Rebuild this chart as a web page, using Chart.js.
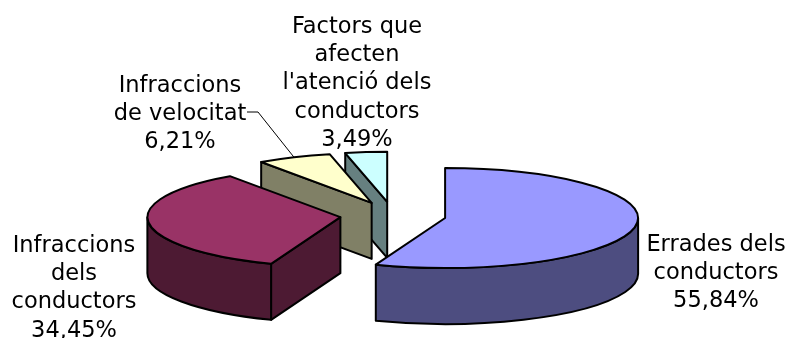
<!DOCTYPE html>
<html>
<head>
<meta charset="utf-8">
<style>
html, body { margin: 0; padding: 0; background: #fff; }
canvas { display: block; }
</style>
<script src="https://cdn.jsdelivr.net/npm/chart.js@4/dist/chart.umd.min.js"></script>
</head>
<body>
<canvas id="pie3d" width="790" height="338"></canvas>
<script>
// Dades del gràfic
const categories = ['Errades dels conductors', 'Infraccions dels conductors', 'Infraccions de velocitat', "Factors que afecten l'atenció dels conductors"];
const percentatges = [55.84, 34.45, 6.21, 3.49];

// Colors
const topColors = ['#9999FF', '#993366', '#FFFFCC', '#CCFFFF'];
const wallColors = ['#4D4D80', '#4D1A33', '#808066', '#668080'];

// Etiquetes: línies de text i posició
const labelLines = [
    ['Errades dels', 'conductors', '55,84%'],
    ['Infraccions', 'dels', 'conductors', '34,45%'],
    ['Infraccions', 'de velocitat', '6,21%'],
    ['Factors que', 'afecten', "l'atenció dels", 'conductors', '3,49%']
];
const labelCenterX = [716, 74, 180, 357];
const labelBaseline = [251, 252, 92, 33];
const lineHeight = 28.2;

// Aspecte 3D
const squash = 0.259;
const depth = 56;
const explode = 53;
const paintOrder = [3, 2, 1, 0];

function drawSlice(ctx, arc, i) {
    const mid = (arc.startAngle + arc.endAngle) / 2;
    const cx = arc.x + Math.cos(mid) * explode;
    const cy = arc.y + Math.sin(mid) * explode * squash;
    const rx = arc.outerRadius;
    const ry = rx * squash;
    const a0 = arc.startAngle;
    const a1 = arc.endAngle;
    const px = (a) => cx + Math.cos(a) * rx;
    const py = (a) => cy + Math.sin(a) * ry;

    ctx.lineWidth = 2;
    ctx.lineJoin = 'round';
    ctx.strokeStyle = '#000';
    ctx.fillStyle = wallColors[i];

    // cares radials visibles
    [[a0, Math.cos(a0) < -1e-6], [a1, Math.cos(a1) > 1e-6]].forEach(([a, visible]) => {
        if (!visible) return;
        ctx.beginPath();
        ctx.moveTo(cx, cy);
        ctx.lineTo(px(a), py(a));
        ctx.lineTo(px(a), py(a) + depth);
        ctx.lineTo(cx, cy + depth);
        ctx.closePath();
        ctx.fill();
        ctx.stroke();
    });

    // paret exterior (només la meitat de davant)
    const from = Math.max(a0, 0);
    const to = Math.min(a1, Math.PI);
    if (to > from) {
        ctx.beginPath();
        ctx.ellipse(cx, cy, rx, ry, 0, from, to);
        ctx.lineTo(px(to), py(to) + depth);
        ctx.ellipse(cx, cy + depth, rx, ry, 0, to, from, true);
        ctx.closePath();
        ctx.fill();
        ctx.stroke();
    }

    // cara de dalt: la dibuixa l'arc de Chart.js, aixafat
    ctx.save();
    ctx.translate(cx, cy);
    ctx.scale(1, squash);
    ctx.translate(-arc.x, -arc.y);
    arc.draw(ctx);
    ctx.restore();

    ctx.beginPath();
    ctx.moveTo(cx, cy);
    ctx.ellipse(cx, cy, rx, ry, 0, a0, a1);
    ctx.closePath();
    ctx.stroke();
}

const pie3dPlugin = {
    id: 'pie3d',
    beforeDatasetDraw(chart, args) {
        const ctx = chart.ctx;
        const arcs = args.meta.data;
        paintOrder.forEach((i) => drawSlice(ctx, arcs[i], i));
        return false;
    },
    afterDraw(chart) {
        const ctx = chart.ctx;
        const arcs = chart.getDatasetMeta(0).data;
        // línia guia de "Infraccions de velocitat"
        const arc = arcs[2];
        const mid = (arc.startAngle + arc.endAngle) / 2;
        const cx = arc.x + Math.cos(mid) * explode;
        const cy = arc.y + Math.sin(mid) * explode * squash;
        ctx.strokeStyle = '#000';
        ctx.lineWidth = 1;
        ctx.beginPath();
        ctx.moveTo(247, 112);
        ctx.lineTo(258, 112);
        ctx.lineTo(cx + Math.cos(mid) * arc.outerRadius, cy + Math.sin(mid) * arc.outerRadius * squash);
        ctx.stroke();

        ctx.fillStyle = '#000';
        ctx.font = '22.5px "DejaVu Sans"';
        ctx.textAlign = 'center';
        ctx.textBaseline = 'alphabetic';
        labelLines.forEach((lines, i) => {
            lines.forEach((line, n) => ctx.fillText(line, labelCenterX[i], labelBaseline[i] + n * lineHeight));
        });
    }
};

new Chart(document.getElementById('pie3d'), {
    type: 'pie',
    data: {
        labels: categories,
        datasets: [{ data: percentatges, backgroundColor: topColors, borderWidth: 0, clip: false }]
    },
    options: {
        responsive: false,
        animation: false,
        radius: 193,
        layout: { padding: { top: 93, right: 4 } },
        plugins: { legend: { display: false }, tooltip: { enabled: false } }
    },
    plugins: [pie3dPlugin]
});
</script>
</body>
</html>
